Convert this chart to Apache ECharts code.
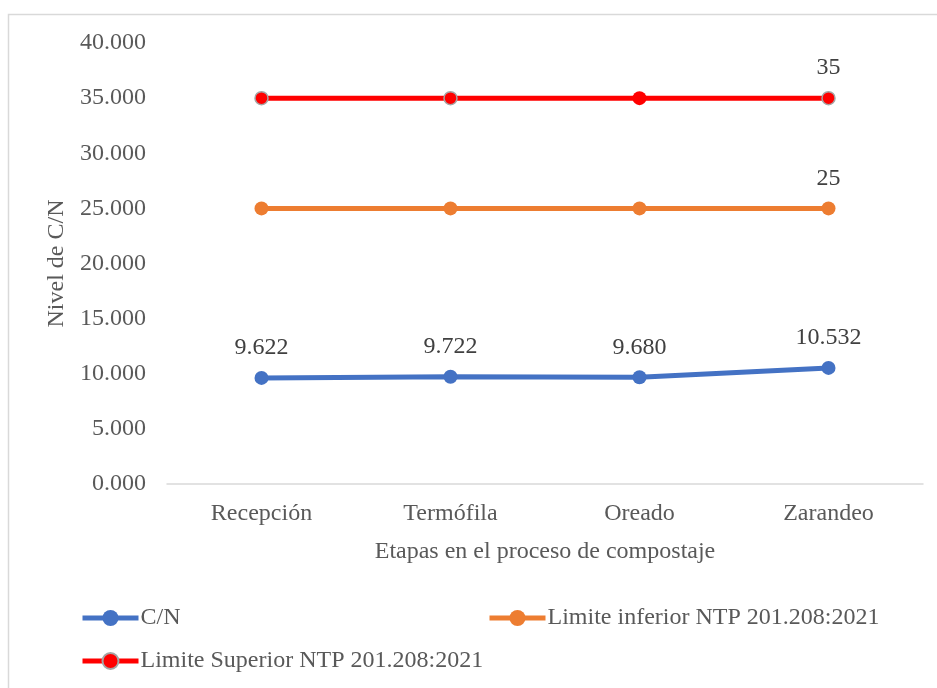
<!DOCTYPE html>
<html>
<head>
<meta charset="utf-8">
<script src="https://cdn.jsdelivr.net/npm/echarts@6/dist/echarts.min.js"></script>
<style>
html,body{margin:0;padding:0;background:#fff;}
#chart{width:937px;height:688px;}
</style>
</head>
<body>
<div id="chart"></div>
<script>
const categories = ['Recepción', 'Termófila', 'Oreado', 'Zarandeo'];
const cnValues = [9.622, 9.722, 9.680, 10.532];
const lowerLimit = [25, 25, 25, 25];
const upperLimit = [35, 35, 35, 35];
const seriesNames = ['C/N', 'Limite inferior NTP 201.208:2021', 'Limite Superior NTP 201.208:2021'];
const yTicks = { min: 0, max: 40, interval: 5 };
const xTitle = 'Etapas en el proceso de compostaje';
const yTitle = 'Nivel de C/N';

const FONT = '"Liberation Serif", "Times New Roman", serif';
const TXT = '#595959';
const LBL = '#404040';

const chart = echarts.init(document.getElementById('chart'), null, { renderer: 'canvas' });

function lastOnlyLabel(arr, fmt) {
  return arr.map((v, i) => i === arr.length - 1
    ? { value: v, label: { show: true, formatter: fmt } }
    : v);
}

const upperData = upperLimit.map((v, i) => {
  const item = { value: v };
  if (i === 2) { item.itemStyle = { borderWidth: 0 }; item.symbolSize = 14; }
  if (i === upperLimit.length - 1) item.label = { show: true, formatter: '{c}' };
  return item;
});

const legendCommon = {
  itemWidth: 56, itemHeight: 20, itemGap: 0, padding: 0,
  lineStyle: { width: 5 },
  textStyle: { fontFamily: FONT, fontSize: 24, color: TXT, padding: [0, 0, 0, -3] },
  selectedMode: false
};

const option = {
  backgroundColor: '#fff',
  animation: false,
  graphic: [{
    type: 'rect', silent: true, z: -10,
    shape: { x: 8.5, y: 14.5, width: 1000, height: 1000 },
    style: { fill: 'none', stroke: '#d9d9d9', lineWidth: 1.5 }
  }],
  grid: { left: 167, right: 14, top: 43, bottom: 204, containLabel: false },
  legend: [
    Object.assign({ data: [seriesNames[0]], left: 80, top: 606 }, legendCommon),
    Object.assign({ data: [seriesNames[1]], left: 487, top: 606 }, legendCommon),
    Object.assign({ data: [seriesNames[2]], left: 80, top: 649 }, legendCommon)
  ],
  xAxis: {
    type: 'category',
    data: categories,
    boundaryGap: true,
    axisLine: { show: true, lineStyle: { color: '#d9d9d9', width: 1.5 } },
    axisTick: { show: false },
    axisLabel: { fontFamily: FONT, fontSize: 24, color: TXT, margin: 18 },
    name: xTitle,
    nameLocation: 'middle',
    nameGap: 56,
    nameTextStyle: { fontFamily: FONT, fontSize: 24, color: TXT }
  },
  yAxis: {
    type: 'value',
    min: yTicks.min, max: yTicks.max, interval: yTicks.interval,
    axisLine: { show: false },
    axisTick: { show: false },
    splitLine: { show: false },
    axisLabel: { fontFamily: FONT, fontSize: 24, color: TXT, margin: 21,
      formatter: v => v.toFixed(3) },
    name: yTitle,
    nameLocation: 'middle',
    nameGap: 98,
    nameTextStyle: { fontFamily: FONT, fontSize: 24, color: TXT }
  },
  series: [
    {
      name: seriesNames[0], type: 'line', data: cnValues,
      symbol: 'circle', symbolSize: 14,
      lineStyle: { color: '#4472C4', width: 5 },
      itemStyle: { color: '#4472C4' },
      label: { show: true, position: 'top', distance: 11, fontFamily: FONT, fontSize: 24, color: LBL,
        formatter: p => p.value.toFixed(3) },
      z: 3
    },
    {
      name: seriesNames[1], type: 'line', data: lastOnlyLabel(lowerLimit, '{c}'),
      symbol: 'circle', symbolSize: 14,
      lineStyle: { color: '#ED7D31', width: 5 },
      itemStyle: { color: '#ED7D31' },
      label: { show: false, position: 'top', distance: 11, fontFamily: FONT, fontSize: 24, color: LBL },
      z: 2
    },
    {
      name: seriesNames[2], type: 'line', data: upperData,
      symbol: 'circle', symbolSize: 13,
      lineStyle: { color: '#FF0000', width: 5 },
      itemStyle: { color: '#FF0000', borderColor: '#A5A5A5', borderWidth: 1.5 },
      label: { show: false, position: 'top', distance: 11, fontFamily: FONT, fontSize: 24, color: LBL },
      z: 2
    }
  ]
};
chart.setOption(option);
</script>
</body>
</html>
